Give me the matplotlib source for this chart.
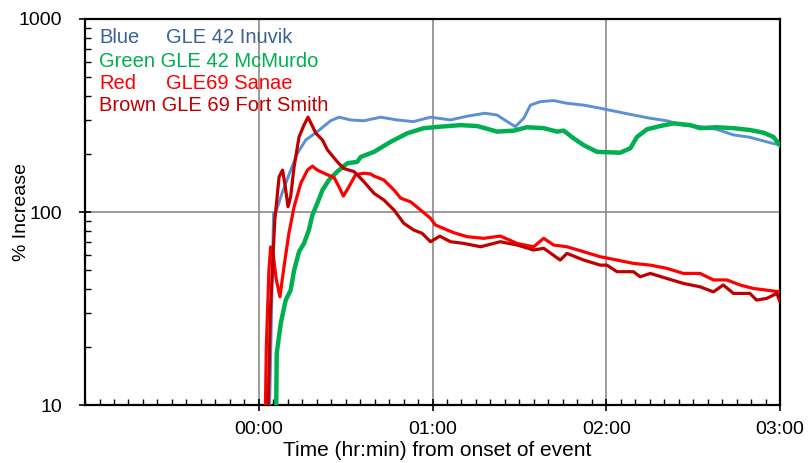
import matplotlib
matplotlib.use("Agg")
import matplotlib.pyplot as plt
from matplotlib.ticker import FixedLocator, MultipleLocator, FuncFormatter, LogLocator, NullFormatter

plt.rcParams['font.family'] = ['Liberation Sans', 'DejaVu Sans']

# time in minutes from onset, value in % increase
blue_t = [3.6, 4.4, 5.1, 5.9, 7.6, 10.4, 13.3, 16.2, 20.2, 24.8, 27.7, 31.7, 36.2, 42.1, 47.8,
          53.4, 59.3, 66.2, 72.1, 78.1, 82.3, 85.8, 88.6, 91.5, 93.8, 97.2, 101.8, 106.4, 112.2,
          117.9, 123.7, 129.4, 135.2, 140.9, 146.6, 152.4, 158.2, 163.9, 169.6, 175.4, 180]
blue_v = [8, 30, 99, 100, 120, 156, 201, 236, 261, 297, 310, 300, 297, 310, 300,
          294, 310, 300, 314, 325, 318, 294, 277, 306, 358, 373, 378, 366, 358,
          345, 331, 318, 306, 297, 282, 277, 268, 251, 244, 231, 222]

green_t = [5.8, 6.2, 7.6, 9.3, 11.0, 12.2, 13.9, 15.6, 17.3, 18.5, 20.2, 22.0, 24.2, 27.1,
           30.6, 34.0, 35.2, 39.8, 45.5, 51.3, 57.0, 62.8, 69.7, 75.4, 82.3, 88.0, 92.6,
           98.4, 103.0, 105.3, 108.7, 112.2, 116.8, 124.8, 128.3, 130.6, 134.0, 138.6,
           143.2, 149.0, 152.4, 158.2, 163.9, 169.6, 174.2, 177.7, 180]
green_v = [5, 18.6, 26.6, 35, 39.4, 50, 62.3, 68.8, 80.7, 96.5, 111, 130, 146.5, 162,
           179, 182, 193, 205, 231, 256, 272, 277, 282, 279, 261, 264, 275,
           272, 261, 264, 241, 222, 205, 203, 214, 245, 268, 279,
           288, 282, 272, 275, 272, 266, 258, 245, 222]

red_t = [2.0, 2.6, 3.5, 4.1, 5.0, 6.0, 7.3, 8.7, 10.4, 12.2, 14.5, 16.8, 18.5, 20.2, 23.7,
         26.0, 27.7, 29.2, 31.1, 33.4, 36.3, 38.6, 39.8, 43.2, 46.7, 49.0, 52.4, 55.9, 59.3,
         61.0, 65.1, 67.4, 72.0, 77.7, 83.4, 89.2, 94.9, 98.4, 101.8, 106.4, 112.2, 117.9,
         123.7, 129.4, 135.2, 140.9, 146.6, 152.4, 157.0, 161.6, 166.2, 170.8, 175.4, 180]
red_v = [5, 20, 50, 66, 60, 45, 36.4, 52, 77.6, 106.5, 141, 165, 173, 165, 156,
         151, 135, 121, 135, 156, 159, 157.5, 153.6, 146.5, 130, 118, 113, 102.4, 92.8,
         85.7, 80.7, 78.1, 74.5, 73.1, 75.1, 68.8, 66.1, 73.1, 67.5, 66.1, 62.3, 58.7,
         56.4, 54.2, 53.1, 51.1, 48.1, 48.1, 44.5, 44.5, 41.9, 40.2, 39.4, 38.6]

brown_t = [2.8, 4.0, 5.5, 7.0, 8.2, 9.0, 10.1, 11.0, 12.2, 13.9, 15.6, 17.0, 19.7, 22.0, 23.7,
           27.1, 29.4, 32.9, 36.3, 39.8, 43.2, 46.7, 50.1, 53.5, 56.4, 59.3, 62.5, 66.2,
           70.8, 76.6, 83.4, 89.2, 94.9, 98.4, 104.1, 106.4, 112.2, 117.9, 120.2, 123.7,
           129.4, 131.7, 135.2, 140.9, 146.6, 152.4, 157.0, 160.4, 163.9, 169.6, 171.9,
           175.4, 178.9, 180]
brown_v = [5, 30, 90, 152, 165, 140, 106.5, 120, 172, 245, 282, 310, 256, 236, 210,
           182, 168, 162, 143.6, 125, 115.4, 102.4, 87.4, 80.7, 77.6, 70.2, 75, 70.2,
           68.8, 66.1, 70.2, 67.5, 63.6, 64.9, 56.4, 61.1, 56.4, 53.1, 53.1, 49.1,
           49.1, 46.2, 48.1, 45.3, 42.7, 41, 38.6, 41.9, 37.9, 37.9, 35,
           35.7, 37.9, 34.3]

x_ticks = [0, 60, 120, 180]
x_labels = ["00:00", "01:00", "02:00", "03:00"]
y_ticks = [10, 100, 1000]

legend_lines = [
    ("Blue", "GLE 42 Inuvik", "#3A6296"),
    ("Green GLE 42 McMurdo", None, "#00B050"),
    ("Red", "GLE69 Sanae", "#FF0000"),
    ("Brown GLE 69 Fort Smith", None, "#C00000"),
]

fig = plt.figure(figsize=(8.1, 4.63), dpi=100)
ax = fig.add_axes([0.105, 0.125, 0.858, 0.834])

ax.plot(blue_t, blue_v, color="#5B8FD6", lw=2.1, zorder=3)
ax.plot(green_t, green_v, color="#00B050", lw=3.2, zorder=3)
ax.plot(red_t, red_v, color="#FF0000", lw=2.3, zorder=4)
ax.plot(brown_t, brown_v, color="#C00000", lw=2.3, zorder=4)

ax.set_yscale('log')
ax.set_xlim(-60, 180)
ax.set_ylim(10, 1000)

ax.xaxis.set_major_locator(FixedLocator(x_ticks))
ax.xaxis.set_major_formatter(FuncFormatter(lambda v, p: x_labels[x_ticks.index(int(round(v)))] if int(round(v)) in x_ticks else ""))
ax.xaxis.set_minor_locator(MultipleLocator(5))
ax.yaxis.set_major_locator(FixedLocator(y_ticks))
ax.yaxis.set_major_formatter(FuncFormatter(lambda v, p: f"{int(v)}"))
ax.yaxis.set_minor_locator(LogLocator(base=10, subs=range(2, 10)))
ax.yaxis.set_minor_formatter(NullFormatter())

ax.tick_params(which='major', direction='inout', length=9, width=1.2, labelsize=14, colors='black')
ax.tick_params(which='minor', direction='in', length=4.5, width=1.0)
ax.tick_params(axis='x', which='major', pad=7)
ax.tick_params(axis='y', which='major', pad=12)

ax.grid(True, which='major', color='#808080', lw=1.1)
for s in ax.spines.values():
    s.set_color('black')
    s.set_linewidth(1.6)

fig.text(0.5395, 0.026, "Time (hr:min) from onset of event", fontsize=15,
         ha='center', va='center')
fig.text(0.026, 0.542, "% Increase", fontsize=14, rotation=90,
         ha='center', va='center')

ys = [0.951, 0.889, 0.832, 0.775]
for (a, b, c), y in zip(legend_lines, ys):
    ax.text(0.020, y, a, color=c, fontsize=14.5, transform=ax.transAxes, va='center', ha='left', zorder=5)
    if b:
        ax.text(0.117, y, b, color=c, fontsize=14.5, transform=ax.transAxes, va='center', ha='left', zorder=5)

fig.savefig("out.png", dpi=100)
